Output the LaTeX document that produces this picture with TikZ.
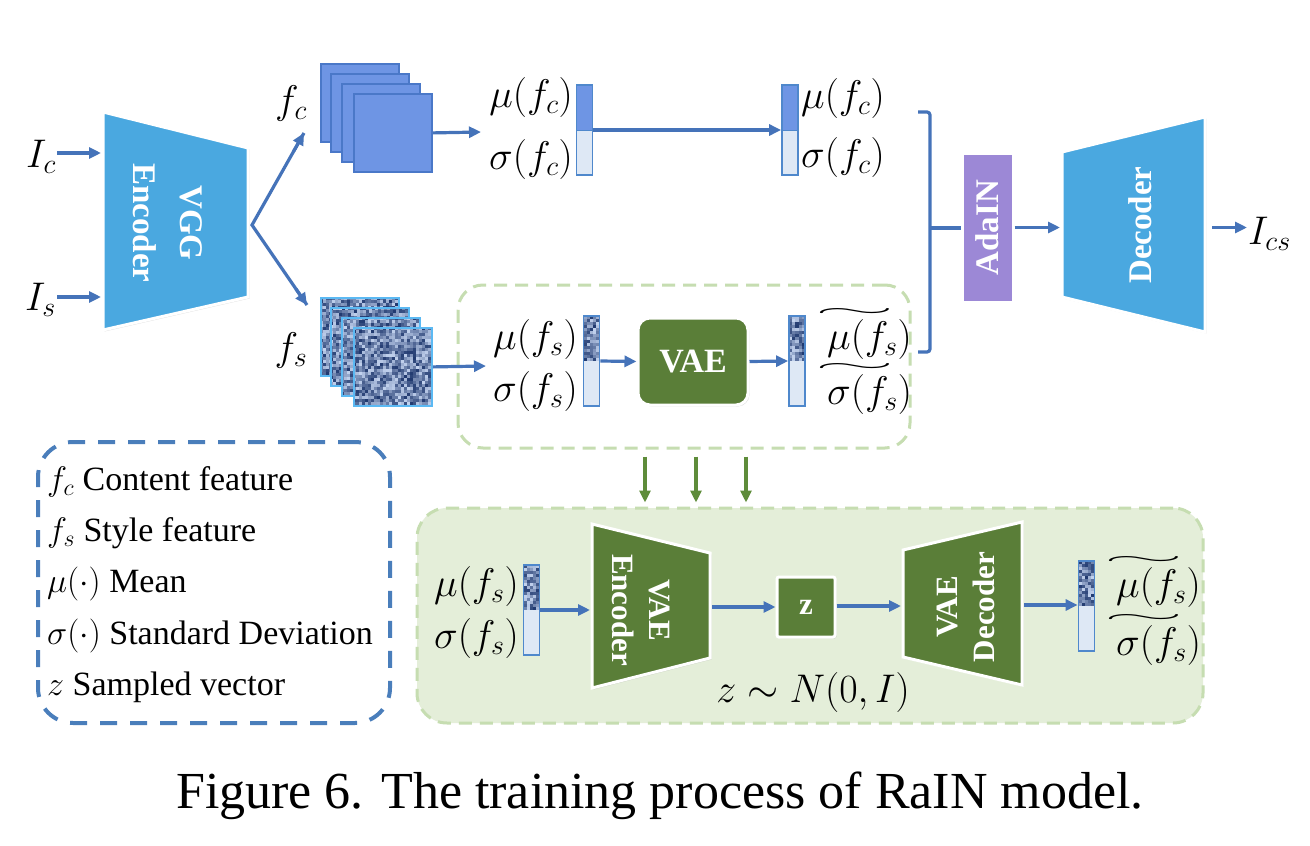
\documentclass[tikz,border=0pt]{standalone}
\usepackage{fix-cm}
\usepackage{fontspec}
\setmainfont{Liberation Serif}
\usepackage{graphicx}
\usetikzlibrary{arrows.meta,shadows,calc}

\definecolor{ablue}{HTML}{4573B9}
\definecolor{encblue}{HTML}{4AA8E0}
\definecolor{fcfill}{HTML}{6E95E4}
\definecolor{fcborder}{HTML}{4A78C8}
\definecolor{barlight}{HTML}{DEE8F5}
\definecolor{barblue}{HTML}{4F88CC}
\definecolor{adapurple}{HTML}{9C88D6}
\definecolor{vgreen}{HTML}{5A7E38}
\definecolor{garrowc}{HTML}{5E8C3A}
\definecolor{lgreen}{HTML}{C6DDB1}
\definecolor{lgfill}{HTML}{E4EED9}
\definecolor{legblue}{HTML}{4A7EBB}
\definecolor{noisedark}{HTML}{213A70}
\definecolor{noiselight}{HTML}{C2D2EE}
\definecolor{fsborder}{HTML}{5BB9F3}

\newsavebox\wtbox
\newcommand\wtil[1]{\sbox\wtbox{$#1$}\vbox{\offinterlineskip\hbox to\wd\wtbox{\hss\resizebox{0.95\wd\wtbox}{0.2em}{$\sim$}\hss}\kern0.08em\usebox\wtbox}}

\newcommand\noisefill[6]{%
  \fill[noisedark] ({#1},{#2}) rectangle ++(#3,#4);
  \pgfmathsetmacro\ncw{(#3)/(#5)}%
  \pgfmathsetmacro\nch{(#4)/(#6)}%
  \pgfmathtruncatemacro\nnx{#5-1}%
  \pgfmathtruncatemacro\nny{#6-1}%
  \foreach \ii in {0,...,\nnx}{\foreach \jj in {0,...,\nny}{%
    \pgfmathrandominteger{\lv}{0}{100}%
    \fill[noiselight!\lv!noisedark] ({#1+\ii*\ncw},{#2+\jj*\nch}) rectangle ++({\ncw+0.25},{\nch+0.25});
  }}%
}

\newcommand\cbar[3]{%
  \fill[fcfill] ({#2-8},{#3-45}) rectangle ({#2+8},{#3});
  \fill[barlight] ({#2-8},{#3}) rectangle ({#2+8},{#3+45});
  \draw[barblue, line width=1pt] ({#2-8},{#3}) -- ({#2+8},{#3});
  \node[barnode] (#1) at (#2,#3) {};
}
\newcommand\sbar[3]{%
  \noisefill{#2-8}{#3-45}{16}{45}{5}{15}%
  \fill[barlight] ({#2-8},{#3}) rectangle ({#2+8},{#3+45});
  \node[barnode] (#1) at (#2,#3) {};
}

\tikzset{
  barnode/.style={draw=barblue, line width=1.8pt, minimum width=16pt, minimum height=90pt, inner sep=0pt},
  block/.style={draw=white, line width=3pt, drop shadow={opacity=0.25, shadow xshift=1.5pt, shadow yshift=-1.5pt}},
  btext/.style={text=white, font=\bfseries\fontsize{33}{47}\selectfont, align=center, inner sep=0pt},
  btextsm/.style={text=white, font=\bfseries\fontsize{31}{37}\selectfont, align=center, inner sep=0pt},
  lab/.style={font=\fontsize{40}{46}\selectfont, inner sep=1pt},
  legtext/.style={font=\fontsize{34}{40}\selectfont, inner sep=0pt},
  barrow/.style={draw=ablue, line width=3.2pt, -{Triangle[length=12pt,width=11pt]}},
  bline/.style={draw=ablue, line width=3.2pt},
  garrow/.style={draw=garrowc, line width=3.2pt, -{Triangle[length=12pt,width=11pt]}},
  fcsq/.style={draw=fcborder, line width=1.8pt, fill=fcfill, minimum size=78pt, inner sep=0pt, anchor=north west},
  fssq/.style={draw=fsborder, line width=1.8pt, minimum size=78pt, inner sep=0pt, anchor=north west},
}

\begin{document}
\begin{tikzpicture}[x=1pt,y=-1pt]
\pgfmathsetseed{7}
\fill[white] (0,0) rectangle (1310,846);
\useasboundingbox (0,0) rectangle (1310,846);

% ---------- frames ----------
\node[draw=lgreen, fill=lgfill, line width=3pt, dash pattern=on 13pt off 8pt, rounded corners=30pt,
      minimum width=786pt, minimum height=215pt] (botbox) at (810,615.5) {};
\node[draw=lgreen, line width=3pt, dash pattern=on 13pt off 8pt, rounded corners=25pt,
      minimum width=452pt, minimum height=163pt] (vaebox) at (684,366.5) {};
\node[draw=legblue, line width=4pt, dash pattern=on 17pt off 13pt, rounded corners=35pt,
      minimum width=352pt, minimum height=281pt] (legbox) at (214,582.5) {};

% ---------- VGG encoder ----------
\path[block, fill=encblue] (103,112) -- (248,148) -- (248,297) -- (103,330) -- cycle;
\node[btext, rotate=-90] (enctxt) at (168,223) {VGG\\Encoder};
\coordinate (encIc) at (101,153);
\coordinate (encIs) at (101,297);
\node[lab, anchor=east] (Ic) at (57,157) {$I_c$};
\node[lab, anchor=east] (Is) at (57,300) {$I_s$};
\draw[barrow] (Ic.east |- encIc) -- (encIc);
\draw[barrow] (Is.east |- encIs) -- (encIs);

% branch
\coordinate (br) at (252,225);
\coordinate (brc) at (304,133);
\coordinate (brs) at (307,305);
\draw[bline] (brc) -- (br) -- (brs);
\draw[barrow] ($(br)!0.8!(brc)$) -- (brc);
\draw[barrow] ($(br)!0.8!(brs)$) -- (brs);
\node[lab] (fc) at (291,103) {$f_c$};
\node[lab] (fs) at (291,350) {$f_s$};

% ---------- content feature maps ----------
\node[fcsq] (fc1) at (320,63) {};
\node[fcsq] (fc2) at (330,73) {};
\node[fcsq] (fc3) at (341,83) {};
\node[fcsq] (fc4) at (353,93) {};

% ---------- style feature maps ----------
\noisefill{320}{297}{78}{78}{26}{26}
\node[fssq] (fs1) at (320,297) {};
\noisefill{330}{307}{78}{78}{26}{26}
\node[fssq] (fs2) at (330,307) {};
\noisefill{341}{317}{78}{78}{26}{26}
\node[fssq] (fs3) at (341,317) {};
\noisefill{353}{327}{78}{78}{26}{26}
\node[fssq] (fs4) at (353,327) {};

% ---------- top vectors ----------
\coordinate (fcend) at (481,132);
\draw[barrow] (fc4.east) -- (fcend);
\cbar{b1}{584.5}{130}
\cbar{b2}{790}{130}
\draw[barrow] (b1.east) -- (b2.west);
\node[lab, anchor=east] (muc1) at (574,97) {$\mu(f_c)$};
\node[lab, anchor=east] (sgc1) at (574,159) {$\sigma(f_c)$};
\node[lab, anchor=west] (muc2) at (800,98) {$\mu(f_c)$};
\node[lab, anchor=west] (sgc2) at (800,157) {$\sigma(f_c)$};

% ---------- VAE row ----------
\coordinate (fsend) at (486,366);
\draw[barrow] (fs4.east) -- (fsend);
\sbar{b3}{591.5}{361}
\sbar{b4}{797}{361}
\node[lab, anchor=east] (mus1) at (579,339) {$\mu(f_s)$};
\node[lab, anchor=east] (sgs1) at (579,391) {$\sigma(f_s)$};
\node[lab, anchor=west] (mus2) at (811,334) {\wtil{\mu(f_s)}};
\node[lab, anchor=west] (sgs2) at (811,389) {\wtil{\sigma(f_s)}};
\node[block, fill=vgreen, rounded corners=12pt, minimum width=110pt, minimum height=87pt,
      text=white, font=\bfseries\fontsize{34}{40}\selectfont] (vae) at (693,361.5) {VAE};
\draw[barrow] (b3.east) -- (vae.west);
\draw[barrow] (vae.east) -- (b4.west);

% ---------- bracket, AdaIN, decoder ----------
\draw[bline, rounded corners=3pt] (918,112) -- (930,112) -- (930,352) -- (918,352);
\node[block, fill=adapurple, minimum width=51pt, minimum height=149pt, inner sep=0pt] (ada) at (987.5,227.5) {};
\node[btext, rotate=90] (adat) at (ada.center) {AdaIN};
\coordinate (brk) at (930,228);
\draw[bline] (brk) -- (brk -| ada.west);

\path[block, fill=encblue] (1062,152) -- (1205,117) -- (1205,332) -- (1062,297) -- cycle;
\node[btext, rotate=90] (dectxt) at (1140,225) {Decoder};
\coordinate (decW) at (1060,227.5);
\coordinate (decE) at (1212,227.5);
\draw[barrow] (ada.east |- decW) -- (decW);
\node[lab, anchor=west] (Ics) at (1247,234) {$I_{cs}$};
\draw[barrow] (decE) -- (decE -| Ics.west);

% ---------- green arrows ----------
\coordinate (g1) at (645,0);
\coordinate (g2) at (696,0);
\coordinate (g3) at (746,0);
\foreach \g in {g1,g2,g3}{
  \draw[garrow, shorten <=7pt, shorten >=4pt] (vaebox.south -| \g) -- (botbox.north -| \g);
}

% ---------- bottom VAE detail ----------
\sbar{b5}{531.5}{610}
\node[lab, anchor=east] (mus3) at (520,586) {$\mu(f_s)$};
\node[lab, anchor=east] (sgs3) at (520,638) {$\sigma(f_s)$};
\path[block, fill=vgreen] (592,524) -- (710,553) -- (710,658) -- (592,688) -- cycle;
\node[btextsm, rotate=-90] (ventxt) at (641,610) {VAE\\Encoder};
\coordinate (venW) at (590,610);
\coordinate (venE) at (712,607);
\draw[barrow] (b5.east) -- (venW);
\node[block, fill=vgreen, rounded corners=2pt, minimum width=58pt, minimum height=60pt,
      text=white, font=\bfseries\fontsize{31}{37}\selectfont] (zb) at (806,607) {z};
\draw[barrow] (venE) -- (venE -| zb.west);
\path[block, fill=vgreen] (903,550) -- (1022,522) -- (1022,685) -- (903,657) -- cycle;
\node[btextsm, rotate=90] (vdetxt) at (966,607) {VAE\\Decoder};
\coordinate (vdeW) at (901,606);
\coordinate (vdeE) at (1024,605);
\draw[barrow] (zb.east |- vdeW) -- (vdeW);
\sbar{b6}{1086.5}{606}
\draw[barrow] (vdeE) -- (vdeE -| b6.west);
\node[lab, anchor=west] (mus4) at (1100,582) {\wtil{\mu(f_s)}};
\node[lab, anchor=west] (sgs4) at (1100,640) {\wtil{\sigma(f_s)}};
\node[lab] (zdist) at (813,692) {$z\sim N(0,I)$};

% ---------- legend ----------
\node[legtext, anchor=base west] (lg1) at (47,490) {$f_c$ Content feature};
\node[legtext, anchor=base west] (lg2) at (47,541) {$f_s$ Style feature};
\node[legtext, anchor=base west] (lg3) at (47,592) {$\mu(\cdot)$ Mean};
\node[legtext, anchor=base west] (lg4) at (47,644) {$\sigma(\cdot)$ Standard Deviation};
\node[legtext, anchor=base west] (lg5) at (47,695) {$z$ Sampled vector};

% ---------- caption ----------
\node[font=\fontsize{52}{60}\selectfont, inner sep=0pt] (cap) at (660,796) {Figure 6. The training process of RaIN model.};
\end{tikzpicture}
\end{document}
